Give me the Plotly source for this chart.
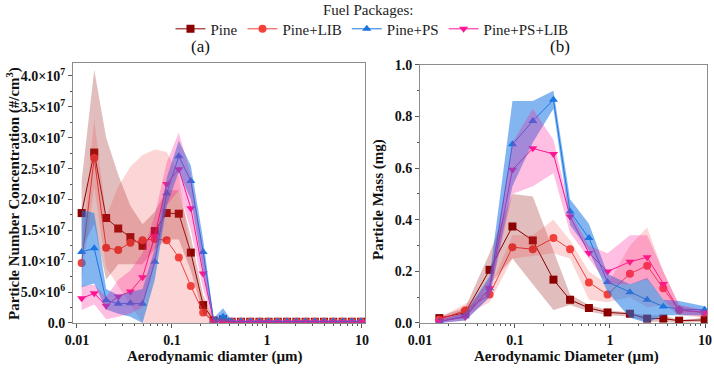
import plotly.graph_objects as go

# ---------------- data ----------------
series_names = ["Pine", "Pine+LIB", "Pine+PS", "Pine+PS+LIB"]

# (a) particle number concentration, units of 1e7 #/cm3
xa = [0.0112, 0.0152, 0.0203, 0.0272, 0.0365, 0.049, 0.066, 0.088, 0.118, 0.158,
      0.213, 0.275, 0.345, 0.425, 0.532, 0.666, 0.833, 1.04, 1.30, 1.63, 2.04,
      2.55, 3.19, 3.99, 4.99, 6.25, 7.82, 9.78]
tail = 15
a_pine = [1.78, 2.76, 1.70, 1.53, 1.39, 1.25, 1.49, 1.78, 1.77, 1.14, 0.29, 0.04, 0.06] + [0.02] * tail
a_lib = [0.97, 2.67, 1.22, 1.18, 1.30, 1.34, 1.36, 1.34, 1.06, 0.60, 0.17, 0.03, 0.04] + [0.02] * tail
a_ps = [1.15, 1.21, 0.37, 0.31, 0.32, 0.31, 0.99, 2.10, 2.70, 2.30, 1.15, 0.04, 0.10] + [0.025] * tail
a_pslib = [0.40, 0.48, 0.28, 0.43, 0.51, 0.74, 1.41, 2.25, 2.49, 1.86, 0.80, 0.03, 0.03] + [0.015] * tail

a_pine_hi = [2.3, 4.1, 3.0, 2.4, 1.9, 1.6, 1.8, 2.15, 2.15, 1.4, 0.45, 0.08, 0.10] + [0.03] * tail
a_pine_lo = [1.2, 1.6, 0.7, 0.95, 0.95, 0.95, 1.2, 1.35, 1.35, 0.85, 0.15, 0.0, 0.02] + [0.01] * tail
a_lib_hi = [1.2, 3.3, 1.72, 2.21, 2.53, 2.72, 2.81, 2.77, 2.4, 1.1, 0.35, 0.06, 0.05] + [0.02] * tail
a_lib_lo = [0.7, 2.2, 0.9, 0.6, 0.3, 0.0, 0.0, 0.0, 0.0, 0.0, 0.0, 0.0, 0.0] + [0.0] * tail
a_ps_hi = [1.83, 1.78, 0.55, 0.45, 0.5, 0.55, 1.2, 2.35, 2.95, 2.55, 1.35, 0.08, 0.24] + [0.04] * tail
a_ps_lo = [0.58, 0.64, 0.22, 0.15, 0.1, 0.0, 0.7, 1.9, 2.45, 2.0, 0.85, 0.0, 0.02] + [0.01] * tail
a_pslib_hi = [0.6, 0.62, 0.42, 0.7, 0.85, 1.13, 1.75, 2.6, 3.08, 2.4, 1.15, 0.05, 0.05] + [0.02] * tail
a_pslib_lo = [0.21, 0.3, 0.06, 0.1, 0.15, 0.26, 0.95, 1.9, 2.15, 1.5, 0.55, 0.0, 0.0] + [0.01] * tail

# (b) particle mass, mg
xb = [0.016, 0.030, 0.054, 0.094, 0.154, 0.254, 0.380, 0.600, 0.943, 1.62, 2.46, 3.64, 5.34, 9.92]
b_pine = [0.019, 0.040, 0.206, 0.374, 0.320, 0.168, 0.090, 0.058, 0.041, 0.036, 0.017, 0.017, 0.009, 0.012]
b_lib = [0.013, 0.049, 0.110, 0.294, 0.286, 0.329, 0.286, 0.157, 0.110, 0.191, 0.222, 0.135, 0.049, 0.041]
b_ps = [0.006, 0.026, 0.135, 0.693, 0.783, 0.865, 0.432, 0.329, 0.159, 0.119, 0.090, 0.064, 0.054, 0.051]
b_pslib = [0.006, 0.023, 0.135, 0.594, 0.677, 0.655, 0.413, 0.271, 0.200, 0.237, 0.255, 0.151, 0.051, 0.041]

b_pine_hi = [0.025, 0.06, 0.27, 0.50, 0.49, 0.28, 0.11, 0.07, 0.05, 0.04, 0.03, 0.03, 0.012, 0.02]
b_pine_lo = [0.01, 0.02, 0.15, 0.25, 0.15, 0.05, 0.07, 0.045, 0.03, 0.025, 0.005, 0.005, 0.0, 0.005]
b_lib_hi = [0.02, 0.075, 0.13, 0.34, 0.34, 0.40, 0.32, 0.20, 0.15, 0.30, 0.37, 0.20, 0.07, 0.045]
b_lib_lo = [0.005, 0.03, 0.08, 0.25, 0.26, 0.27, 0.25, 0.09, 0.08, 0.10, 0.06, 0.07, 0.03, 0.02]
b_ps_hi = [0.012, 0.04, 0.18, 0.86, 0.86, 0.90, 0.48, 0.385, 0.19, 0.15, 0.174, 0.09, 0.085, 0.065]
b_ps_lo = [0.0, 0.01, 0.10, 0.53, 0.70, 0.83, 0.38, 0.28, 0.12, 0.02, 0.0, 0.03, 0.03, 0.03]
b_pslib_hi = [0.02, 0.04, 0.17, 0.70, 0.83, 0.71, 0.43, 0.30, 0.27, 0.34, 0.34, 0.20, 0.07, 0.05]
b_pslib_lo = [0.0, 0.01, 0.10, 0.50, 0.53, 0.58, 0.35, 0.25, 0.15, 0.15, 0.17, 0.09, 0.035, 0.025]

y_ticks_a = [0, 5e6, 1e7, 1.5e7, 2e7, 2.5e7, 3e7, 3.5e7, 4e7]
y_ticktext_a = ["0.0", "5.0×10<sup>6</sup>", "1.0×10<sup>7</sup>", "1.5×10<sup>7</sup>",
                "2.0×10<sup>7</sup>", "2.5×10<sup>7</sup>", "3.0×10<sup>7</sup>",
                "3.5×10<sup>7</sup>", "4.0×10<sup>7</sup>"]
x_ticks = [0.01, 0.1, 1, 10]
x_ticktext = ["0.01", "0.1", "1", "10"]

# ---------------- styles ----------------
line_colors = ["#8B0000", "#F2403C", "#1A73E0", "#FF1493"]
band_colors = ["rgba(139,0,0,0.26)", "rgba(240,70,70,0.22)",
               "rgba(30,120,230,0.55)", "rgba(255,20,147,0.27)"]
symbols = ["square", "circle", "triangle-up", "triangle-down"]
FONT = "Liberation Serif, Times New Roman, serif"

fig = go.Figure()

E7 = 1e7
a_vals = [a_pine, a_lib, a_ps, a_pslib]
a_bands = [(a_pine_hi, a_pine_lo), (a_lib_hi, a_lib_lo), (a_ps_hi, a_ps_lo), (a_pslib_hi, a_pslib_lo)]
b_vals = [b_pine, b_lib, b_ps, b_pslib]
b_bands = [(b_pine_hi, b_pine_lo), (b_lib_hi, b_lib_lo), (b_ps_hi, b_ps_lo), (b_pslib_hi, b_pslib_lo)]

for i, name in enumerate(series_names):
    fig.add_trace(go.Scatter(
        x=xa, y=[v * E7 for v in a_vals[i]], mode="lines+markers", name=name,
        line=dict(color=line_colors[i], width=1),
        marker=dict(symbol=symbols[i], size=8, color=line_colors[i]),
        xaxis="x", yaxis="y", legendgroup=name, showlegend=True))
    fig.add_trace(go.Scatter(
        x=xb, y=b_vals[i], mode="lines+markers", name=name,
        line=dict(color=line_colors[i], width=1),
        marker=dict(symbol=symbols[i], size=8, color=line_colors[i]),
        xaxis="x2", yaxis="y2", legendgroup=name, showlegend=False))

for i, name in enumerate(series_names):
    hi, lo = a_bands[i]
    fig.add_trace(go.Scatter(
        x=xa + xa[::-1], y=[v * E7 for v in hi] + [v * E7 for v in lo[::-1]],
        fill="toself", fillcolor=band_colors[i], mode="none",
        xaxis="x", yaxis="y", showlegend=False, hoverinfo="skip"))
    hi, lo = b_bands[i]
    fig.add_trace(go.Scatter(
        x=xb + xb[::-1], y=hi + lo[::-1],
        fill="toself", fillcolor=band_colors[i], mode="none",
        xaxis="x2", yaxis="y2", showlegend=False, hoverinfo="skip"))

minor_log = [m * 10 ** e for e in (-3, -2, -1, 0) for m in range(2, 10)]

tickfont = dict(family=FONT, size=14, color="#111", weight="bold")
axis_common = dict(showline=True, linecolor="#8c8c8c", linewidth=1, mirror=True,
                   showgrid=False, zeroline=False, ticks="outside", ticklen=4,
                   tickcolor="#555", tickfont=tickfont, automargin=False)

fig.update_layout(
    width=714, height=368,
    margin=dict(l=0, r=0, t=0, b=0, autoexpand=False),
    paper_bgcolor="white", plot_bgcolor="white",
    font=dict(family=FONT, color="#111"),
    xaxis=dict(type="log", domain=[0.1022, 0.5112], range=[-2.042, 1.032],
               tickvals=x_ticks, ticktext=x_ticktext, anchor="y",
               minor=dict(tickvals=minor_log, ticks="outside", ticklen=2, tickcolor="#555"),
               **axis_common),
    yaxis=dict(domain=[0.1223, 0.8288], range=[0, 4.21e7], tickvals=y_ticks_a,
               ticktext=y_ticktext_a, anchor="x",
               minor=dict(tickvals=[v + 2.5e6 for v in y_ticks_a[:-1]], ticks="outside",
                          ticklen=2, tickcolor="#555"),
               **axis_common),
    xaxis2=dict(type="log", domain=[0.5882, 0.9902], range=[-2.0, 1.021],
                tickvals=x_ticks, ticktext=x_ticktext, anchor="y2",
                minor=dict(tickvals=minor_log, ticks="outside", ticklen=2, tickcolor="#555"),
                **axis_common),
    yaxis2=dict(domain=[0.1223, 0.8234], range=[0, 1.0], dtick=0.2, tickformat=".1f",
                anchor="x2",
                minor=dict(dtick=0.1, ticks="outside", ticklen=2, tickcolor="#555"),
                **axis_common),
    legend=dict(orientation="h", x=0.521, y=0.921, xanchor="center", yanchor="middle",
                font=dict(family=FONT, size=15, color="#222"), bgcolor="rgba(0,0,0,0)",
                itemclick=False),
)

ann = [
    dict(text="Fuel Packages:", x=0.515, y=0.973, font=dict(size=15, color="#222")),
    dict(text="(a)", x=200 / 714, y=1 - 46 / 368, font=dict(size=17, color="#111")),
    dict(text="(b)", x=560 / 714, y=1 - 46 / 368, font=dict(size=17, color="#111")),
    dict(text="<b>Particle Number Concentration (#/cm<sup>3</sup>)</b>", x=13 / 714,
         y=1 - 194 / 368, textangle=-90, font=dict(size=15, color="#111")),
    dict(text="<b>Particle Mass (mg)</b>", x=378 / 714, y=1 - 200 / 368, textangle=-90,
         font=dict(size=15, color="#111")),
    dict(text="<b>Aerodynamic diamter (µm)</b>", x=215 / 714, y=1 - 356 / 368,
         font=dict(size=15, color="#111")),
    dict(text="<b>Aerodynamic Diameter (µm)</b>", x=566 / 714, y=1 - 356 / 368,
         font=dict(size=15, color="#111")),
]
for a in ann:
    a.update(xref="paper", yref="paper", showarrow=False, xanchor="center", yanchor="middle")
    a["font"]["family"] = FONT
    fig.add_annotation(**a)

fig.write_html("out.html")
